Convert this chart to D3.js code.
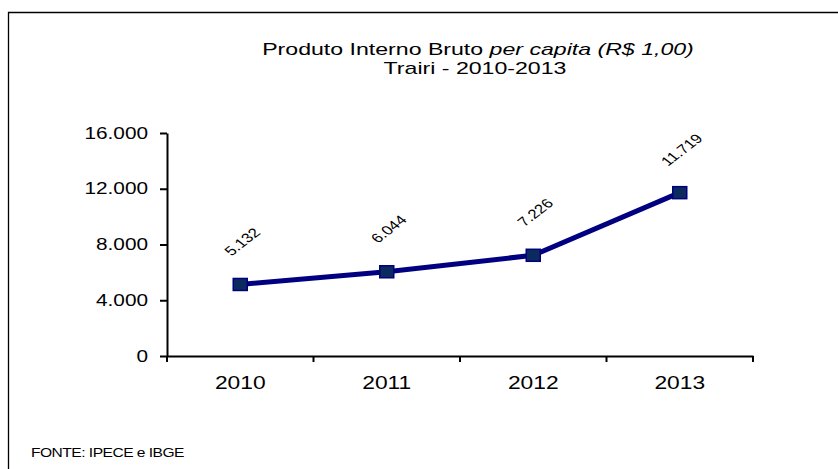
<!DOCTYPE html>
<html>
<head>
<meta charset="utf-8">
<script src="https://cdn.jsdelivr.net/npm/d3@7"></script>
<style>
  body { margin: 0; background: #fff; }
  svg { display: block; font-family: "Liberation Sans", Arial, sans-serif; }
</style>
</head>
<body>
<div id="chart"></div>
<script>
const W = 838, H = 469;
const margin = { top: 133, right: 85, bottom: 113, left: 167 };
const width = W - margin.left - margin.right;
const height = H - margin.top - margin.bottom;
const SX = 1.3; // the original picture is stretched horizontally

// data
const years = ["2010", "2011", "2012", "2013"];
const pibPerCapita = [5132, 6044, 7226, 11719];
const yTicks = [0, 4000, 8000, 12000, 16000];

const fmt = d3.format(",.0f");
const ptbr = v => fmt(v).replace(/,/g, ".");

const svg = d3.select("#chart").append("svg")
  .attr("width", W)
  .attr("height", H);

// outer frame (only top and left edges visible)
svg.append("path")
  .attr("d", `M8.5,${H} V12.5 H${W}`)
  .attr("fill", "none")
  .attr("stroke", "#000")
  .attr("stroke-width", 1.3);

// title
const title = svg.append("text")
  .attr("transform", `translate(478,55) scale(1.36,1)`)
  .attr("text-anchor", "middle")
  .style("font-size", "17px");
title.append("tspan").text("Produto Interno Bruto ");
title.append("tspan").style("font-style", "italic").text("per capita (R$ 1,00)");

svg.append("text")
  .attr("transform", `translate(475,73.5) scale(1.36,1)`)
  .attr("text-anchor", "middle")
  .style("font-size", "17px")
  .text("Trairi - 2010-2013");

const g = svg.append("g")
  .attr("transform", `translate(${margin.left},${margin.top})`);

var xScale = d3.scaleBand().domain(years).range([0, width]);
var yScale = d3.scaleLinear().domain([0, 16000]).range([height, 0]);

// y axis
var yAxis = d3.axisLeft(yScale)
  .tickValues(yTicks)
  .tickSize(7)
  .tickSizeOuter(0)
  .tickFormat(ptbr);

g.append("g")
  .attr("class", "y axis")
  .call(yAxis)
  .call(s => s.selectAll("text")
    .style("font-size", "16px")
    .attr("fill", "#000")
    .attr("x", -19 / SX)
    .attr("transform", `scale(${SX},1)`))
  .call(s => s.selectAll("path, line").attr("stroke", "#000").attr("stroke-width", 2));

// x axis with ticks at band boundaries
g.append("g")
  .attr("class", "x axis")
  .attr("transform", `translate(0,${height})`)
  .call(d3.axisBottom(xScale).tickSize(0).tickPadding(19.5))
  .call(s => s.select(".domain").attr("stroke", "#000").attr("stroke-width", 2))
  .call(s => s.selectAll("text")
    .style("font-size", "19px")
    .attr("fill", "#000")
    .attr("transform", "scale(1.2,1)"));

const bounds = years.map(y => xScale(y)).concat([width]);
g.append("g")
  .selectAll("line")
  .data(bounds)
  .enter()
  .append("line")
  .attr("x1", d => d)
  .attr("x2", d => d)
  .attr("y1", height)
  .attr("y2", height + 6)
  .attr("stroke", "#000")
  .attr("stroke-width", 2);

const cx = d => xScale(d) + xScale.bandwidth() / 2;

// line
const line = d3.line()
  .x((d, i) => cx(years[i]))
  .y(d => yScale(d));

g.append("path")
  .datum(pibPerCapita)
  .attr("d", line)
  .attr("fill", "none")
  .attr("stroke", "#000080")
  .attr("stroke-width", 5);

// markers
g.selectAll("rect.mk")
  .data(pibPerCapita)
  .enter()
  .append("rect")
  .attr("class", "mk")
  .attr("x", (d, i) => cx(years[i]) - 7)
  .attr("y", d => yScale(d) - 6)
  .attr("width", 14)
  .attr("height", 12)
  .attr("fill", "#0b2b5e")
  .attr("stroke", "#000080")
  .attr("stroke-width", 1.5);

// data labels, rotated
g.selectAll("text.lbl")
  .data(pibPerCapita)
  .enter()
  .append("text")
  .attr("class", "lbl")
  .attr("text-anchor", "middle")
  .attr("dominant-baseline", "middle")
  .attr("transform", (d, i) => `translate(${cx(years[i]) + 3},${yScale(d) - 42}) scale(${SX},1) rotate(-45)`)
  .style("font-size", "13px")
  .text(ptbr);

// source
svg.append("text")
  .attr("transform", "translate(31,457) scale(1.3,1)")
  .style("font-size", "12px")
  .style("letter-spacing", "-0.4px")
  .text("FONTE: IPECE e IBGE");
</script>
</body>
</html>
